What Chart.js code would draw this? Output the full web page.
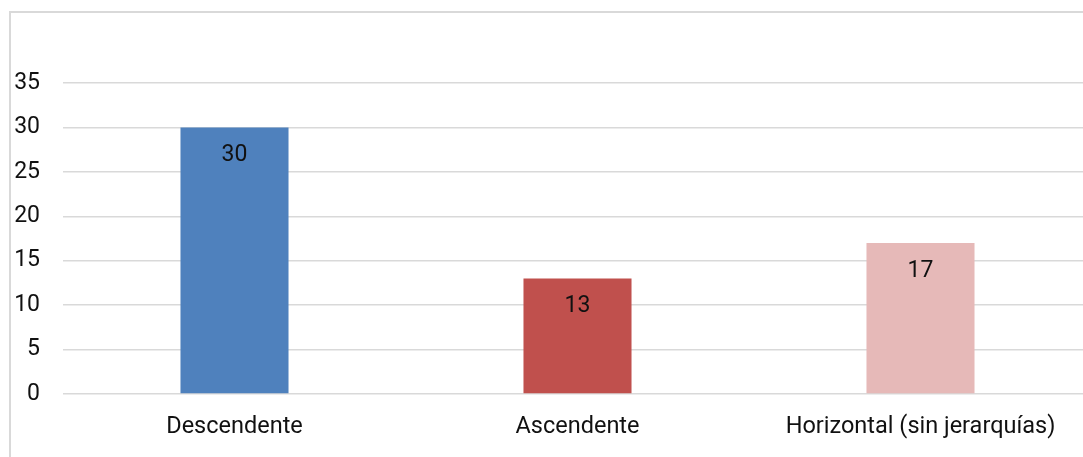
<!DOCTYPE html>
<html>
<head>
<meta charset="utf-8">
<script src="https://cdn.jsdelivr.net/npm/chart.js@4"></script>
<style>
  html, body { margin: 0; padding: 0; background: #fff; overflow: hidden; }
  #frame { position: absolute; left: 9px; top: 11px; width: 1200px; height: 600px; border: 2px solid #d9d9d9; box-sizing: border-box; }
  #wrap { position: absolute; left: 0; top: 0; width: 1100px; height: 457px; }
</style>
</head>
<body>
<div id="frame"></div>
<div id="wrap"><canvas id="myChart"></canvas></div>
<script>
const categories = ['Descendente', 'Ascendente', 'Horizontal (sin jerarquías)'];
const values = [30, 13, 17];
const barColors = ['#4f81bd', '#c0504d', '#e6b9b8'];

// value labels drawn just under the top of each bar
const barLabels = {
  id: 'barLabels',
  afterDatasetsDraw(chart) {
    const c = chart.ctx;
    const meta = chart.getDatasetMeta(0);
    c.save();
    c.font = '23px Roboto';
    c.fillStyle = '#111';
    c.textAlign = 'center';
    c.textBaseline = 'middle';
    meta.data.forEach((bar, i) => {
      c.fillText(values[i], bar.x, bar.y + 28);
    });
    c.restore();
  }
};

const ctx = document.getElementById('myChart');

const chart = new Chart(ctx, {
  type: 'bar',
  data: {
    labels: categories,
    datasets: [{
      data: values,
      backgroundColor: barColors,
      barPercentage: 0.315,
      categoryPercentage: 1
    }]
  },
  options: {
    responsive: true,
    maintainAspectRatio: false,
    animation: false,
    layout: { padding: { top: 83, right: 8, bottom: 0, left: 0 } },
    plugins: {
      legend: { display: false },
      tooltip: { enabled: false }
    },
    scales: {
      x: {
        grid: { display: false },
        border: { display: false },
        ticks: { color: '#111', font: { family: 'Roboto', size: 23.5 }, padding: 11, maxRotation: 0 },
        afterFit: (scale) => { scale.height = 63; }
      },
      y: {
        min: 0,
        max: 35,
        ticks: { stepSize: 5, color: '#111', font: { family: 'Roboto', size: 23 }, padding: 23 },
        grid: { color: '#d9d9d9', lineWidth: 1.5, drawTicks: false },
        border: { display: false },
        afterFit: (scale) => { scale.width = 63; }
      }
    }
  },
  plugins: [barLabels]
});
</script>
</body>
</html>
